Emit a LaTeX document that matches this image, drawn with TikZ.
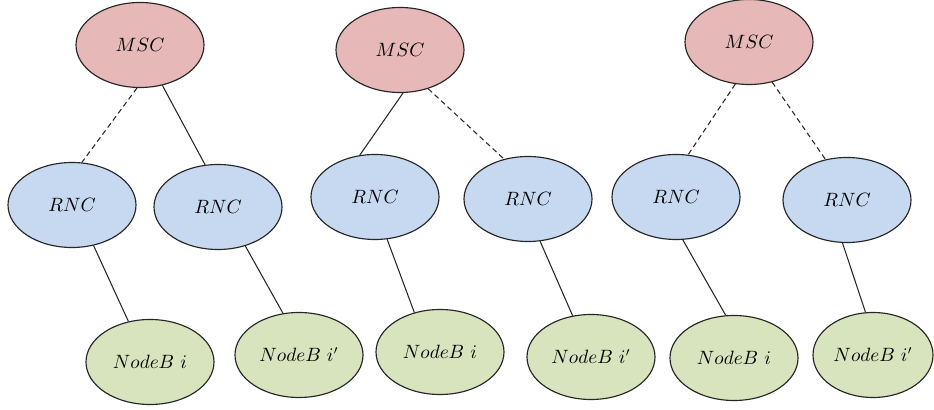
\documentclass[tikz,border=0pt]{standalone}
\usetikzlibrary{shapes.geometric}

\definecolor{mscpink}{RGB}{230,184,183}
\definecolor{rncblue}{RGB}{198,217,241}
\definecolor{nodebgreen}{RGB}{215,228,189}

\tikzset{
    unit/.style={ellipse, draw=black!85, line width=0.65pt, inner sep=0pt,
        minimum width=2.56cm, minimum height=1.7cm, font=\fontsize{10.5}{12}\selectfont},
    msc/.style={unit, fill=mscpink},
    rnc/.style={unit, fill=rncblue},
    nodeb/.style={unit, fill=nodebgreen},
    link/.style={line width=0.6pt, black!85},
    softlink/.style={link, dash pattern=on 3pt off 2pt}
}

\begin{document}
\begin{tikzpicture}
            %\draw[lightgray] (0, 0) grid (18, 8);
            \useasboundingbox (0, 0) rectangle (18.68, 8.2);

            \node[msc](msca) at (2.8, 7.3) {\(MSC\)};
            \node[rnc](rncaa) at (1.44, 4.1) {\(RNC\)};
            \node[rnc](rncab) at (4.36, 4.06) {\(RNC\)};
            \node[nodeb](nodebaa) at (3.0, 0.96) {\(NodeB\ i\)};
            \node[nodeb](nodebab) at (5.98, 1.1) {\(NodeB\ i'\)};

            \node[msc](mscb) at (8.0, 7.2) {\(MSC\)};
            \node[rnc](rncba) at (7.5, 4.26) {\(RNC\)};
            \node[rnc](rncbb) at (10.56, 4.22) {\(RNC\)};
            \node[nodeb](nodebba) at (8.8, 1.16) {\(NodeB\ i\)};
            \node[nodeb](nodebbb) at (11.82, 1.06) {\(NodeB\ i'\)};

            \node[msc](mscc) at (14.98, 7.36) {\(MSC\)};
            \node[rnc](rncca) at (13.52, 4.26) {\(RNC\)};
            \node[rnc](rnccb) at (16.94, 4.2) {\(RNC\)};
            \node[nodeb](nodebca) at (14.68, 1.04) {\(NodeB\ i\)};
            \node[nodeb, minimum width=2.4cm](nodebcb) at (17.46, 1.1) {\(NodeB\ i'\)};

            \draw[softlink] (msca.-94) -- (rncaa.77);
            \draw[link] (msca.-61) -- (rncab.107);
            \draw[link] (rncaa.-62) -- (nodebaa.118);
            \draw[link] (rncab.-55) -- (nodebab.111);

            \draw[link] (mscb.-86) -- (rncba.110);
            \draw[softlink] (mscb.-54) -- (rncbb.121);
            \draw[link] (rncba.-74) -- (nodebba.123);
            \draw[link] (rncbb.-74) -- (nodebbb.114);

            \draw[softlink] (mscc.-108) -- (rncca.74);
            \draw[softlink] (mscc.-60) -- (rnccb.118);
            \draw[link] (rncca.-81) -- (nodebca.101);
            \draw[link] (rnccb.-96) -- (nodebcb.100);
        \end{tikzpicture}
\end{document}
